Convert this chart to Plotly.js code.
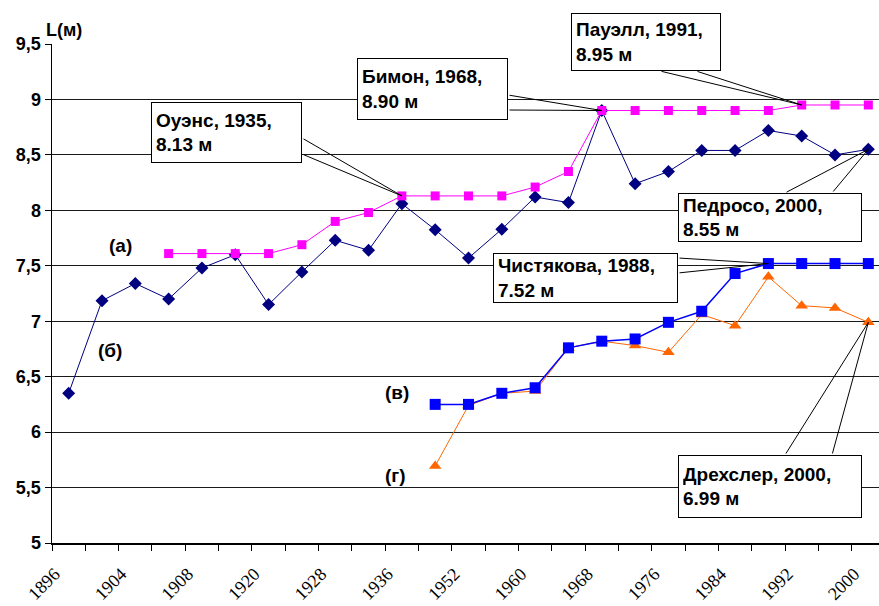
<!DOCTYPE html>
<html><head><meta charset="utf-8">
<script src="https://cdn.plot.ly/plotly-3.0.1.min.js"></script>
<style>html,body{margin:0;padding:0;background:#fff}#chart{width:879px;height:606px}</style>
</head><body><div id="chart"></div>
<script>
// Olympic years (categories)
const years = ['1896','1900','1904','1906','1908','1912','1920','1924','1928','1932','1936','1948','1952','1956','1960','1964','1968','1972','1976','1980','1984','1988','1992','1996','2000'];
// (б) men's Olympic winning jumps, m
const menOlympic = [6.35,7.185,7.34,7.20,7.48,7.60,7.15,7.445,7.73,7.64,8.06,7.825,7.57,7.83,8.12,8.07,8.90,8.24,8.35,8.54,8.54,8.72,8.67,8.50,8.55];
// (а) men's world record, m
const menRecord = [null,null,null,7.61,7.61,7.61,7.61,7.69,7.90,7.98,8.13,8.13,8.13,8.13,8.21,8.35,8.90,8.90,8.90,8.90,8.90,8.90,8.95,8.95,8.95];
// (в) women's world record, m
const womenRecord = [null,null,null,null,null,null,null,null,null,null,null,6.25,6.25,6.35,6.40,6.76,6.82,6.84,6.99,7.09,7.43,7.52,7.52,7.52,7.52];
// (г) women's Olympic winning jumps, m
const womenOlympic = [null,null,null,null,null,null,null,null,null,null,null,5.695,6.24,6.35,6.37,6.76,6.82,6.78,6.72,7.06,6.96,7.40,7.14,7.12,6.99];
// y tick labels
const yTickVals = [5,5.5,6,6.5,7,7.5,8,8.5,9,9.5];
const yTickText = ['5','5,5','6','6,5','7','7,5','8','8,5','9','9,5'];

const idx = years.map((_, i) => i);
const xTickVals = idx.filter(i => i % 2 === 0);
const xTickText = xTickVals.map(i => years[i]);

// layout geometry (pixels)
const W = 879, H = 606, ML = 52, MT = 44, MB = 63, MR = 0;
const PW = W - ML - MR, PH = H - MT - MB;
const XMIN = -0.5, XMAX = 24.32, YMIN = 5, YMAX = 9.5;
const px2x = p => XMIN + (p - ML) / PW * (XMAX - XMIN);
const py2y = p => YMIN + (MT + PH - p) / PH * (YMAX - YMIN);
const px2paper = p => (p - ML) / PW;
const py2paper = p => (MT + PH - p) / PH;

const FONT = 'Liberation Sans, Arial, sans-serif';

const traces = [
  {x: idx, y: menOlympic, mode: 'lines+markers', name: '(б)',
   line: {color: '#000080', width: 1}, marker: {symbol: 'diamond', size: 10, color: '#000080'}},
  {x: idx, y: menRecord, mode: 'lines+markers', name: '(а)',
   line: {color: '#FF00FF', width: 1}, marker: {symbol: 'square', size: 9, color: '#FF00FF'}},
  {x: idx, y: womenOlympic, mode: 'lines+markers', name: '(г)',
   line: {color: '#FF6600', width: 1}, marker: {symbol: 'triangle-up', size: 11, color: '#FF6600'}},
  {x: idx, y: womenRecord, mode: 'lines+markers', name: '(в)',
   line: {color: '#0000FF', width: 1.5}, marker: {symbol: 'square', size: 11, color: '#0000FF'}}
];

const annotations = [];
function callout(text, box, tipYear, series, b1, b2) {
  const i = years.indexOf(tipYear);
  const tx = i, ty = series[i];
  [b1, b2].forEach(b => annotations.push({
    xref: 'x', yref: 'y', x: tx, y: ty, axref: 'x', ayref: 'y',
    ax: px2x(b[0]), ay: py2y(b[1]), text: '', showarrow: true,
    arrowhead: 0, arrowwidth: 1, arrowcolor: '#000', standoff: 0, startstandoff: 0
  }));
  const [l, t, r, bt] = box;
  annotations.push({
    xref: 'paper', yref: 'paper', x: px2paper(l), y: py2paper(t), xanchor: 'left', yanchor: 'top',
    width: r - l - 10, height: bt - t - 10, borderpad: 4, borderwidth: 1, bordercolor: '#000',
    bgcolor: '#fff', align: 'left', valign: 'middle', showarrow: false,
    text: '<b>' + text + '</b>', font: {family: FONT, size: 19, color: '#000'}
  });
}
callout('Оуэнс, 1935,<br>8.13 м', [151, 102, 302, 163], '1936', menRecord, [302, 138], [302, 154]);
callout('Бимон, 1968,<br>8.90 м', [357, 58, 508, 120], '1968', menRecord, [508, 95], [508, 110]);
callout('Пауэлл, 1991,<br>8.95 м', [571, 13, 721, 71], '1992', menRecord, [660, 71], [696, 71]);
callout('Педросо, 2000,<br>8.55 м', [678, 193, 862, 242], '2000', menOlympic, [785, 193], [832, 193]);
callout('Чистякова, 1988,<br>7.52 м', [493, 253, 678, 303], '1988', womenRecord, [678, 258], [678, 273]);
callout('Дрехслер, 2000,<br>6.99 м', [678, 455, 862, 518], '2000', womenOlympic, [785, 455], [832, 455]);

// series labels
[['(а)', 120, 245], ['(б)', 110, 350], ['(в)', 397, 392], ['(г)', 395, 475]].forEach(s => annotations.push({
  xref: 'x', yref: 'y', x: px2x(s[1]), y: py2y(s[2]), text: '<b>' + s[0] + '</b>', showarrow: false,
  font: {family: FONT, size: 19, color: '#000'}
}));
// axis title
annotations.push({xref: 'paper', yref: 'paper', x: px2paper(44), y: py2paper(30), xanchor: 'left', yanchor: 'middle',
  text: '<b>L(м)</b>', showarrow: false, font: {family: FONT, size: 18, color: '#000'}});

const layout = {
  width: W, height: H,
  margin: {l: ML, r: MR, t: MT, b: MB, pad: 0},
  paper_bgcolor: '#fff', plot_bgcolor: '#fff',
  showlegend: false,
  xaxis: {
    range: [XMIN, XMAX], showgrid: false, zeroline: false,
    showline: true, linecolor: '#000', linewidth: 1.5,
    tickmode: 'array', tickvals: xTickVals, ticktext: xTickText, ticks: '',
    tickangle: -45, ticklabelshift: -14, ticklabelstandoff: 12,
    tickfont: {family: 'Liberation Serif, Times New Roman, serif', size: 18, color: '#000'},
    minor: {tick0: -0.5, dtick: 1, ticks: 'outside', ticklen: 6, tickcolor: '#000', tickwidth: 1, showgrid: false}
  },
  yaxis: {
    range: [YMIN, YMAX], showgrid: true, gridcolor: '#1a1a1a', gridwidth: 1, zeroline: false,
    showline: true, linecolor: '#000', linewidth: 1.5,
    tickmode: 'array', tickvals: yTickVals, ticktext: yTickText,
    ticks: 'outside', ticklen: 6, tickcolor: '#000',
    tickfont: {family: FONT, size: 18, color: '#000', weight: 'bold'}
  },
  annotations: annotations
};

Plotly.newPlot('chart', traces, layout, {displayModeBar: false, staticPlot: true});
</script>
</body></html>
